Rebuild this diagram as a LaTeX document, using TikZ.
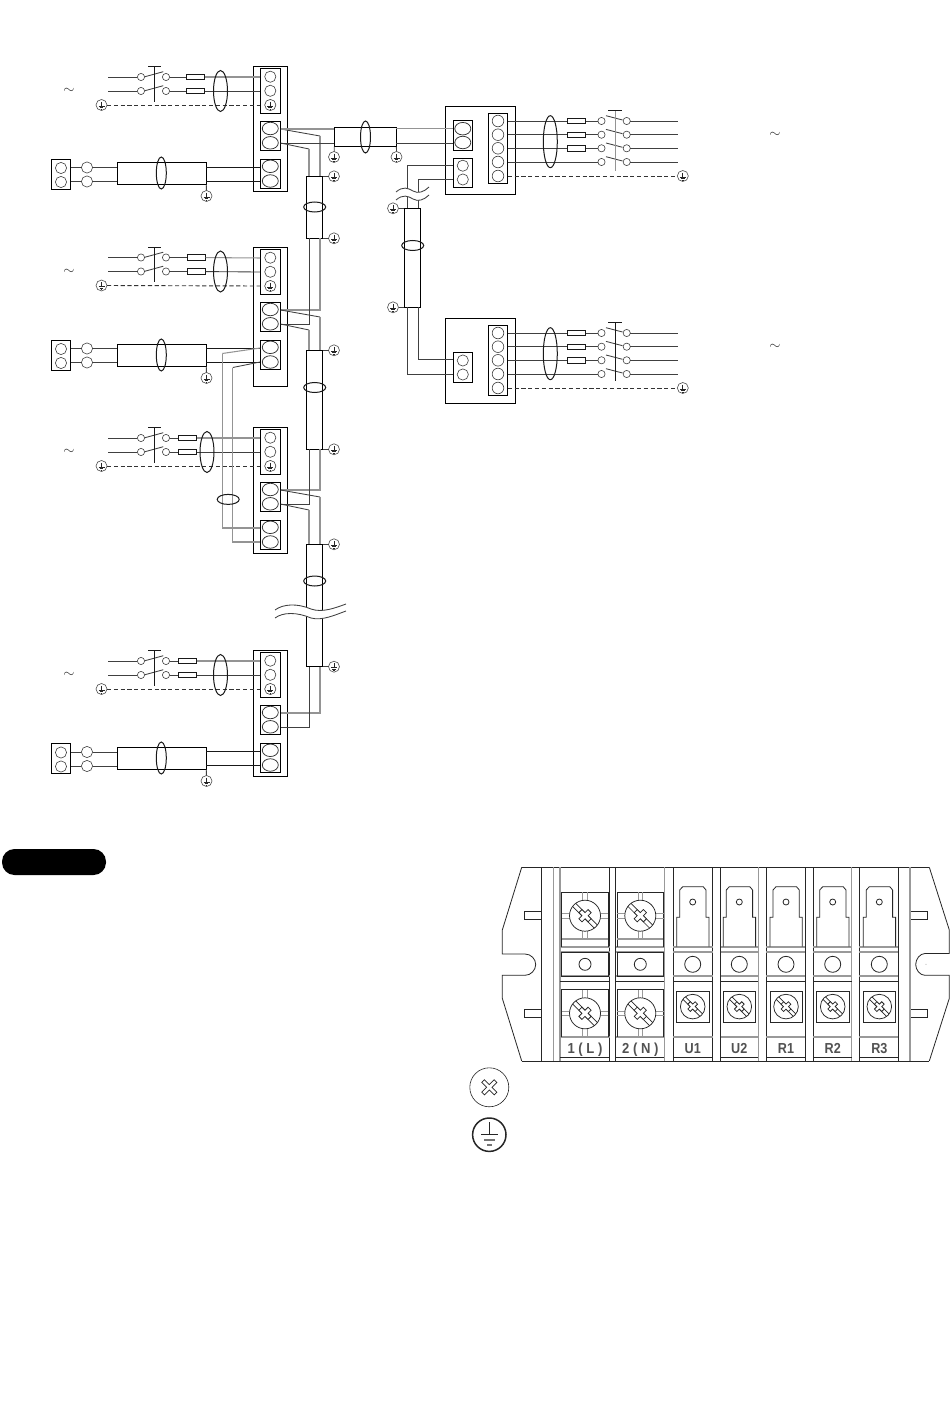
\documentclass[tikz,border=0pt]{standalone}
\usepackage{fontspec}
\setmainfont{Liberation Sans}
\usetikzlibrary{shapes.geometric}
\tikzset{
 wire/.style={draw=black!75,line width=0.85pt},
 gwire/.style={draw=black!42,line width=1.05pt},
 dwire/.style={draw=black!90,line width=0.95pt},
 earthline/.style={draw=black!80,line width=0.9pt,dash pattern=on 4.2pt off 2.6pt},
 unitbox/.style={rectangle,draw=black,line width=0.95pt,inner sep=0pt,outer sep=0pt,fill=white},
 block/.style={rectangle,draw=black,line width=0.95pt,inner sep=0pt,outer sep=0pt,fill=white},
 sheath/.style={rectangle,draw=black,line width=0.95pt,inner sep=0pt,outer sep=0pt},
 term/.style={circle,draw=black!75,line width=0.6pt,minimum size=11.2pt,inner sep=0pt,outer sep=0pt,fill=white},
 oval/.style={ellipse,draw=black!80,line width=0.75pt,minimum width=16pt,minimum height=12.5pt,inner sep=0pt,outer sep=0pt,fill=white},
 swc/.style={circle,draw=black!75,line width=0.6pt,minimum size=7.2pt,inner sep=0pt,outer sep=0pt,fill=white},
 fuse/.style={rectangle,draw=black!90,line width=0.8pt,inner sep=0pt,outer sep=0pt,fill=white},
 tieV/.style={ellipse,draw=black!90,line width=1pt,inner sep=0pt,outer sep=0pt},
 earthc/.style={circle,draw=black!70,line width=0.6pt,minimum size=11pt,inner sep=0pt,outer sep=0pt,fill=white},
 glyph/.style={draw=black!85,line width=0.7pt},
 tildemark/.style={inner sep=0pt,text=black!80,font=\Large},
 strip/.style={draw=black!85,line width=0.8pt},
 stripg/.style={draw=black!40,line width=1.1pt},
 stripband/.style={draw=black!40,line width=1.7pt},
 screwc/.style={draw=black!85,line width=0.75pt,fill=white},
 lab/.style={inner sep=0pt,anchor=base,text=black!68,font=\bfseries\fontsize{14.5}{15}\selectfont},
 pill/.style={rectangle,fill=black,rounded corners=12.5pt,inner sep=0pt,outer sep=0pt},
}
% styled rectangular node from corners: style, name, x1, y1, x2, y2
\newcommand\RN[6]{%
 \pgfmathsetmacro\rnW{(#5)-(#3)}\pgfmathsetmacro\rnH{(#6)-(#4)}%
 \node[#1,minimum width=\rnW pt,minimum height=\rnH pt] (#2) at ({((#3)+(#5))/2},{((#4)+(#6))/2}) {};}
% tie ellipse: name x y width height
\newcommand\Tie[5]{\node[tieV,minimum width=#4pt,minimum height=#5pt] (#1) at (#2,#3) {};}
% earth: name x y
\newcommand\EarthG[2]{%
 \begin{scope}[shift={(#1,#2)}]
 \draw[glyph] (0,-3.4) -- (0,1);
 \draw[glyph] (-3,1) -- (3,1);
 \draw[glyph] (-1.9,2.5) -- (1.9,2.5);
 \draw[glyph] (-0.8,3.9) -- (0.8,3.9);
 \end{scope}}
\newcommand\Earth[3]{\node[earthc] (#1) at (#2,#3) {};\EarthG{#2}{#3}}
% indoor unit: name, dy, height
\newcommand\Unit[3]{%
 \begin{scope}[shift={(0,#2)}]
 \RN{unitbox}{#1box}{253.3}{66.3}{287}{66.3+#3}
 \RN{block}{#1up}{260}{68}{280.5}{113.7}
 \RN{block}{#1mid}{260}{121.3}{280.5}{150.5}
 \RN{block}{#1low}{260}{159.3}{280.5}{188.3}
 \node[term] (#1c1) at (270.3,76.7) {};
 \node[term] (#1c2) at (270.3,90.8) {};
 \node[term] (#1c3) at (270.3,105) {};
 \EarthG{270.3}{105}
 \node[oval] (#1m1) at (270.3,128.5) {};
 \node[oval] (#1m2) at (270.3,142.8) {};
 \node[oval] (#1l1) at (270.3,166.3) {};
 \node[oval] (#1l2) at (270.3,181) {};
 \coordinate (#1u1) at (260,77);
 \coordinate (#1u2) at (260,91);
 \coordinate (#1u3) at (260,105);
 \coordinate (#1mr1) at (280.5,129);
 \coordinate (#1mr2) at (280.5,143);
 \coordinate (#1lw1) at (260,167);
 \coordinate (#1lw2) at (260,181);
 \end{scope}}
% mains feed: name, dy, fuse x, tie x, unit
\newcommand\Mains[5]{%
 \begin{scope}[shift={(0,#2)}]
 \coordinate (#1s1) at (108,77);
 \coordinate (#1s2) at (108,91);
 \node[swc] (#1a1) at (141,77) {};
 \node[swc] (#1a2) at (141,91) {};
 \node[swc] (#1b1) at (166,77) {};
 \node[swc] (#1b2) at (166,91) {};
 \RN{fuse}{#1f1}{#3}{74.4}{#3+18.4}{79.6}
 \RN{fuse}{#1f2}{#3}{88.4}{#3+18.4}{93.6}
 \draw[wire] (#1s1) -- (#1a1);
 \draw[wire] (#1s2) -- (#1a2);
 \draw[wire] (#1b1) -- (#1f1);
 \draw[wire] (#1b2) -- (#1f2);
 \draw[gwire] (#1f1) -- (#5u1);
 \draw[wire] (#1f2) -- (#5u2);
 \draw[wire] (145,76.7) -- (163.3,71.7);
 \draw[wire] (145,90.7) -- (163.3,85.7);
 \draw[dwire] (154.5,66.7) -- (154.5,102);
 \draw[dwire] (148,66.7) -- (160.5,66.7);
 \Earth{#1e}{101.5}{105}
 \draw[earthline] (#1e) -- (#5u3);
 \Tie{#1t}{#4}{91}{14}{41}
 \node[tildemark] (#1n) at (69,91) {$\sim$};
 \end{scope}}
% remote controller feed: name, dy, unit, sheath offset
\newcommand\Remote[4]{%
 \begin{scope}[shift={(0,#2)}]
 \RN{block}{#1r}{51.3}{159.3}{70.7}{189.3}
 \node[term] (#1r1) at (61,168) {};
 \node[term] (#1r2) at (61,182) {};
 \node[term] (#1k1) at (87,167.5) {};
 \node[term] (#1k2) at (87,181.5) {};
 \RN{sheath}{#1sh}{117.3}{162.3+#4}{206.3}{184.3+#4}
 \coordinate (#1rr1) at (70.7,167.5);
 \coordinate (#1rr2) at (70.7,181.5);
 \coordinate (#1sl1) at (117.3,167.5);
 \coordinate (#1sl2) at (117.3,181.5);
 \draw[wire] (#1rr1) -- (#1k1);
 \draw[wire] (#1rr2) -- (#1k2);
 \draw[wire] (#1k1) -- (#1sl1);
 \draw[wire] (#1k2) -- (#1sl2);
 \draw[dwire] (#1sh.east |- #3lw1) -- (#3lw1);
 \draw[dwire] (#1sh.east |- #3lw2) -- (#3lw2);
 \Tie{#1t}{161.3}{173+#4}{10}{32}
 \Earth{#1e}{206.5}{196+#4}
 \draw[wire] (#1sh.south east) -- (#1e);
 \end{scope}}
% vertical inter-unit sheath: name, top y, bottom y, tie y
\newcommand\Riser[4]{%
 \RN{sheath}{#1}{306.3}{#2}{322.7}{#3}
 \Tie{#1t}{314.7}{#4}{22}{10}
 \Earth{#1ea}{334}{#2}
 \Earth{#1eb}{334}{#3}
 \draw[wire] (#1.north east) -- (#1ea);
 \draw[wire] (#1.south east) -- (#1eb);
 \coordinate (#1ia) at (309,#2);
 \coordinate (#1ib) at (320,#2);
 \coordinate (#1oa) at (309,#3);
 \coordinate (#1ob) at (320,#3);}
% cable link from a unit's mid block: in sheath from outgoing pair
\newcommand\LinkOut[2]{%
 \draw[wire] (#1mr1) -- ++(39.5,7) coordinate (#1sa);
 \draw[gwire] (#1sa) -- (#2ib);
 \draw[wire] (#1mr2) -- ++(28.5,6) coordinate (#1sb);
 \draw[gwire] (#1sb) -- (#2ia);}
\newcommand\LinkIn[2]{%
 \draw[gwire] (#1ob) |- (#2mr1);
 \draw[wire] (#1oa) |- (#2mr2);}
% terminal strip parts
\newcommand\Shaft[2]{%
 \draw[stripg,line width=.7pt] (#1-2.4,#2-23.4) -- (#1-2.4,#2-10);
 \draw[stripg,line width=.7pt] (#1+2.4,#2-23.4) -- (#1+2.4,#2-10);
 \draw[stripg,line width=.7pt] (#1-2.4,#2+10) -- (#1-2.4,#2+23);
 \draw[stripg,line width=.7pt] (#1+2.4,#2+10) -- (#1+2.4,#2+23);
 \draw[stripg,line width=.7pt] (#1-23.4,#2-2.4) -- (#1-10,#2-2.4);
 \draw[stripg,line width=.7pt] (#1-23.4,#2+2.4) -- (#1-10,#2+2.4);
 \draw[stripg,line width=.7pt] (#1+10,#2-2.4) -- (#1+23.4,#2-2.4);
 \draw[stripg,line width=.7pt] (#1+10,#2+2.4) -- (#1+23.4,#2+2.4);}
\newcommand\CrossOutline[4]{% x y L w
 \begin{scope}[shift={(#1,#2)},rotate=45]
 \draw[screwc] (-#3,-#4) -- (-#4,-#4) -- (-#4,-#3) -- (#4,-#3) -- (#4,-#4) -- (#3,-#4) -- (#3,#4) -- (#4,#4) -- (#4,#3) -- (-#4,#3) -- (-#4,#4) -- (-#3,#4) -- cycle;
 \end{scope}}
\newcommand\Screw[3]{% x y r
 \draw[screwc] (#1,#2) circle (#3);
 \pgfmathsetmacro\scA{0.7*#3}\pgfmathsetmacro\scE{0.1*#3}
 \pgfmathsetmacro\scL{0.42*#3}\pgfmathsetmacro\scW{0.14*#3}
 \draw[strip,line width=.7pt] (#1-\scA+\scE,#2-\scA-\scE) -- (#1+\scA+\scE,#2+\scA-\scE);
 \draw[strip,line width=.7pt] (#1-\scA-\scE,#2-\scA+\scE) -- (#1+\scA-\scE,#2+\scA+\scE);
 \CrossOutline{#1}{#2}{\scL}{\scW}}
\newcommand\Bands[2]{%
 \draw[stripband] (#1,946.8) -- (#2,946.8);
 \draw[stripband] (#1,952.3) -- (#2,952.3);
 \draw[stripband] (#1,976) -- (#2,976);
 \draw[strip] (#1,981.7) -- (#2,981.7);
 \draw[stripband] (#1,1037) -- (#2,1037);
 \draw[strip] (#1,1057.7) -- (#2,1057.7);}
\newcommand\BigCell[5]{% name, center, left, right, label
 \Bands{#3}{#4}
 \draw[strip,line width=1pt] (#3+1.7,892.3) -- (#4-1.2,892.3) -- (#4-1.2,946.7);
 \draw[strip,line width=1pt] (#3+1.7,892.3) -- (#3+1.7,946.7);
 \draw[stripband] (#3+1.7,939) -- (#4-1.2,939);
 \draw[strip] (#3+1.7,989.3) -- (#4-1.2,989.3) -- (#4-1.2,1036.7);
 \draw[strip] (#3+1.7,989.3) -- (#3+1.7,1036.7);
 \draw[strip,line width=.7pt] (#3+1.7,952.3) rectangle (#4-1.2,976);
 \draw[strip] (#2,964.3) circle (6);
 \Shaft{#2}{915.7}
 \Screw{#2}{915.7}{15.5}
 \Shaft{#2}{1013.3}
 \Screw{#2}{1013.3}{15.5}
 \node[lab] (#1) at (#2,1053) {\scalebox{.9}[1]{#5}};}
\newcommand\TabCell[5]{% name, center, left, right, label
 \Bands{#3}{#4}
 \draw[strip] (#2-16,946.7) -- (#2-16,917.3) -- (#2-13,917.3) -- (#2-13,890) -- (#2-10,886.7) -- (#2+10.5,886.7) -- (#2+13.3,890) -- (#2+13.3,917.3) -- (#2+16.3,917.3) -- (#2+16.3,946.7);
 \draw[strip] (#2,902) circle (3);
 \draw[strip] (#2,964.3) circle (8);
 \draw[strip] (#2-16,991) rectangle (#2+16.3,1022.7);
 \Screw{#2}{1006.6}{12.3}
 \node[lab] (#1) at (#2,1053) {\scalebox{.87}[1]{#5}};}
\begin{document}
\begin{tikzpicture}[x=1pt,y=-1pt]
\useasboundingbox (0,0) rectangle (950,1420);
\fill[white] (0,0) rectangle (950,1420);

% indoor units
\Unit{A}{0}{125}
\Unit{B}{181}{139}
\Unit{C}{361}{126}
\Unit{D}{584}{126}
\Mains{ma}{0}{186.3}{220.5}{A}
\Mains{mb}{180.5}{187.3}{220.5}{B}
\Mains{mc}{361}{178.3}{207}{C}
\Mains{md}{584}{178.3}{220.5}{D}
\Remote{ra}{0}{A}{0}
\Remote{rb}{181}{B}{1}
\Remote{rd}{584.5}{D}{0.5}

% risers
\Riser{r1}{176.3}{238.3}{207}
\Riser{r2}{350.3}{449.3}{387.5}
\Riser{r3}{544.3}{666.7}{581}
\LinkOut{A}{r1}
\LinkIn{r1}{B}
\LinkOut{B}{r2}
\LinkIn{r2}{C}
\LinkOut{C}{r3}
\LinkIn{r3}{D}

% wave break on the third riser
\fill[white] (275,610) .. controls (283,604) and (297,603) .. (311,609) .. controls (322,613) and (335,608) .. (346,604)
 -- (346,611) .. controls (335,615) and (322,621) .. (311,618) .. controls (297,612) and (283,612) .. (275,618) -- cycle;
\coordinate (wa0) at (275,610);\coordinate (wa1) at (346,604);
\coordinate (wb0) at (275,618);\coordinate (wb1) at (346,611);
\draw[wire] (wa0) .. controls (283,604) and (297,603) .. (311,609) .. controls (322,613) and (335,608) .. (wa1);
\draw[wire] (wb0) .. controls (283,612) and (297,612) .. (311,618) .. controls (322,621) and (335,615) .. (wb1);

% cross link between remote groups
\coordinate (bk1) at (222.3,353.5);
\coordinate (bk2) at (232.8,367.5);
\draw[gwire] (Blw1) -- (bk1);
\draw[gwire] (bk1) |- (Clw1);
\draw[wire] (Blw2) -- (bk2);
\draw[gwire] (bk2) |- (Clw2);
\Tie{tx}{228.2}{499.4}{22}{10}

% horizontal sheath to outdoor
\RN{sheath}{hs}{334.3}{127.3}{396.4}{146.7}
\Tie{hst}{365.5}{137}{10}{32}
\Earth{hea}{334}{157}
\Earth{heb}{396.5}{157}
\draw[wire] (hs.south west) -- (hea);
\draw[wire] (hs.south east) -- (heb);
\coordinate (hsl1) at (334.3,129);
\coordinate (hsl2) at (334.3,143);
\coordinate (hsr1) at (396.4,128.7);
\coordinate (hsr2) at (396.4,143);
\draw[gwire] (Amr1) -- (hsl1);
\draw[wire] (Amr2) -- (hsl2);

% outdoor unit 1
\RN{unitbox}{obx}{445.3}{106.3}{515.7}{194.3}
\RN{block}{oa1}{453.3}{120.3}{472.7}{150.3}
\RN{block}{oa2}{453.3}{158.3}{472.7}{187.3}
\RN{block}{oa3}{488.3}{113.3}{507.7}{183.3}
\node[oval] (oam1) at (462.8,128.7) {};
\node[oval] (oam2) at (462.8,142.5) {};
\node[term] (oal1) at (462.8,165.7) {};
\node[term] (oal2) at (462.8,179.5) {};
\coordinate (ina1) at (453.3,128.7);
\coordinate (ina2) at (453.3,143);
\coordinate (ina3) at (453.3,165.3);
\coordinate (ina4) at (453.3,179.3);
\draw[gwire] (hsr1) -- (ina1);
\draw[wire] (hsr2) -- (ina2);

% outdoor unit 2
\RN{unitbox}{oby}{445.3}{318.3}{515.7}{403.3}
\RN{block}{ob3}{488.3}{325.3}{507.7}{395.5}
\RN{block}{ob1}{453.3}{352.3}{472.7}{382.3}
\node[term] (obl1) at (462.8,360.5) {};
\node[term] (obl2) at (462.8,374.5) {};
\coordinate (inb1) at (453.3,359.3);
\coordinate (inb2) at (453.3,374.3);

% outdoor terminals and feeds
\foreach \u/\d in {a/0,b/212}{
 \begin{scope}[shift={(0,\d)}]
 \foreach \n/\y in {1/121,2/134.7,3/148.3,4/162,5/176}{
  \node[term,minimum size=11.6pt] (o\u c\n) at (498,\y) {};
  \coordinate (o\u p\n) at (507.7,\y);
 }
 \foreach \n/\y in {1/121,2/134.7,3/148.3,4/162}{
  \node[swc] (o\u s\n) at (601.5,\y) {};
  \node[swc] (o\u w\n) at (626.7,\y) {};
  \coordinate (o\u q\n) at (678,\y);
  \draw[wire] (o\u w\n) -- (o\u q\n);
  \draw[wire] (606,\y-5.3) -- (622.5,\y-1);
 }
 \foreach \n/\y in {1/121,2/134.7,3/148.3}{
  \RN{fuse}{o\u f\n}{567.3}{\y-2.7}{585.7}{\y+2.7}
  \draw[wire] (o\u p\n) -- (o\u f\n);
  \draw[wire] (o\u f\n) -- (o\u s\n);
 }
 \draw[wire] (o\u p4) -- (o\u s4);
 \Tie{o\u t}{550.3}{141.7}{14}{52}
 \Earth{o\u e}{682.8}{176}
 \draw[earthline] (o\u p5) -- (o\u e);
 \node[tildemark] (o\u n) at (775,135) {$\sim$};
 \end{scope}
}
\draw[gwire] (615.3,110.3) -- (615.3,171);
\draw[dwire] (608,110.3) -- (621.5,110.3);
\draw[dwire] (615.3,322.3) -- (615.3,381);
\draw[dwire] (608,322.3) -- (621.5,322.3);

% outdoor link cable
\RN{sheath}{vs}{404.3}{208.3}{420.7}{307.3}
\Tie{vst}{412.7}{245.5}{22}{10}
\Earth{vea}{393}{208.3}
\Earth{veb}{393}{307.3}
\draw[wire] (vs.north west) -- (vea);
\draw[wire] (vs.south west) -- (veb);
\coordinate (vta) at (407.3,208.3);
\coordinate (vtb) at (418.5,208.3);
\coordinate (vba) at (407.3,307.3);
\coordinate (vbb) at (418.5,307.3);
\draw[wire] (vta) |- (ina3);
\draw[wire] (vtb) |- (ina4);
\draw[wire] (vbb) |- (inb1);
\draw[wire] (vba) |- (inb2);
\fill[white] (396,192) .. controls (403,186) and (408,188) .. (413,191) .. controls (418,194) and (424,192) .. (429,187)
 -- (429,195) .. controls (424,200) and (418,202) .. (413,199) .. controls (408,196) and (403,194) .. (396,200) -- cycle;
\coordinate (wc0) at (396,192);\coordinate (wc1) at (429,187);
\coordinate (wd0) at (396,200);\coordinate (wd1) at (429,195);
\draw[wire] (wc0) .. controls (403,186) and (408,188) .. (413,191) .. controls (418,194) and (424,192) .. (wc1);
\draw[wire] (wd0) .. controls (403,194) and (408,196) .. (413,199) .. controls (418,202) and (424,200) .. (wd1);

% pill
\RN{pill}{pillbox}{2}{849}{106}{875}

% terminal strip outline
\draw[strip] (521.7,867.3) -- (929.3,867.3);
\draw[strip] (521.7,1061) -- (929.3,1061);
\draw[strip] (521.7,867.3) -- (502.3,930) -- (502.3,954) -- (525,954)
 .. controls (531,954) and (535.7,959) .. (535.7,964.5) .. controls (535.7,970) and (531,975.3) .. (525,975.3)
 -- (502.3,975.3) -- (502.3,998.3) -- (521.7,1061);
\draw[strip] (929.3,867.3) -- (949.3,930) -- (949.3,953.5) -- (925,953.5)
 .. controls (920,953.5) and (915.7,959) .. (915.7,964.5) .. controls (915.7,970) and (920,975.3) .. (925,975.3)
 -- (949.3,975.3) -- (949.3,998.3) -- (929.3,1061);
\fill[black!70] (926,964.3) circle (0.4);
% mounting tabs
\draw[strip] (541.7,911.7) -- (524.3,911.7) -- (524.3,919) -- (541.7,919);
\draw[strip] (541.7,1009.3) -- (524.3,1009.3) -- (524.3,1017.3) -- (541.7,1017.3);
\draw[strip] (910,911.7) -- (927.7,911.7) -- (927.7,919.3) -- (910,919.3);
\draw[strip] (910,1009.3) -- (927.7,1009.3) -- (927.7,1017.3) -- (910,1017.3);
% barriers
\foreach \x in {541.7,609.5,615.7,673.3,712.7,720.7,766,805.3,813.3,859.3,898.3}{\draw[strip] (\x,867.3) -- (\x,1061);}
\foreach \x in {553.3,560,664.3,758.3,851.7,910}{\draw[stripg] (\x,867.3) -- (\x,1061);}

\BigCell{t1}{585}{560}{609.5}{1 ( L )}
\BigCell{t2}{640.3}{615.7}{664.3}{2 ( N )}
\TabCell{t3}{692.7}{673.3}{712.7}{U1}
\TabCell{t4}{739.3}{720.7}{758.3}{U2}
\TabCell{t5}{786}{766}{805.3}{R1}
\TabCell{t6}{832.7}{813.3}{851.7}{R2}
\TabCell{t7}{879.3}{859.3}{898.3}{R3}

% legend
\draw[screwc,line width=.6pt] (489.3,1087.3) circle (19.5);
\CrossOutline{489.3}{1087.3}{8.8}{1.9}
\draw[draw=black!85,line width=1.5pt] (489.3,1134.7) circle (16.7);
\draw[draw=black!85,line width=.9pt] (489.3,1122) -- (489.3,1134);
\draw[draw=black!85,line width=1.6pt] (481,1134.6) -- (497.6,1134.6);
\draw[draw=black!55,line width=2pt] (484,1139.8) -- (494.6,1139.8);
\draw[draw=black!55,line width=1.6pt] (487,1144.8) -- (491.6,1144.8);
\end{tikzpicture}
\end{document}
